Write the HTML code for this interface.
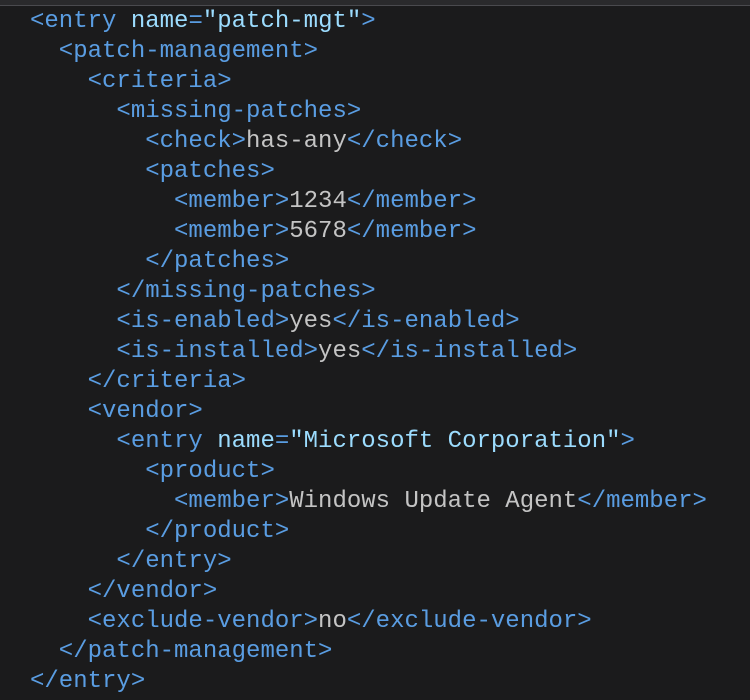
<!DOCTYPE html>
<html><head><style>
html,body{margin:0;padding:0;}
body{width:750px;height:700px;background:#1b1b1c;overflow:hidden;position:relative;}
.top{position:absolute;left:0;top:0;width:750px;height:5px;background:#2a2a2c;border-bottom:1px solid #4a4a4e;}
pre{position:absolute;left:30px;top:7px;margin:0;font-family:"Liberation Mono",monospace;font-size:24px;line-height:30px;color:#5a9de2;}
.a{color:#9cdcfe}.v{color:#9cdcfe}.t{color:#c4c4c4}
</style></head><body>
<div class="top"></div>
<pre>&lt;entry <span class="a">name</span>=<span class="v">"patch-mgt"</span>&gt;
  &lt;patch-management&gt;
    &lt;criteria&gt;
      &lt;missing-patches&gt;
        &lt;check&gt;<span class="t">has-any</span>&lt;/check&gt;
        &lt;patches&gt;
          &lt;member&gt;<span class="t">1234</span>&lt;/member&gt;
          &lt;member&gt;<span class="t">5678</span>&lt;/member&gt;
        &lt;/patches&gt;
      &lt;/missing-patches&gt;
      &lt;is-enabled&gt;<span class="t">yes</span>&lt;/is-enabled&gt;
      &lt;is-installed&gt;<span class="t">yes</span>&lt;/is-installed&gt;
    &lt;/criteria&gt;
    &lt;vendor&gt;
      &lt;entry <span class="a">name</span>=<span class="v">"Microsoft Corporation"</span>&gt;
        &lt;product&gt;
          &lt;member&gt;<span class="t">Windows Update Agent</span>&lt;/member&gt;
        &lt;/product&gt;
      &lt;/entry&gt;
    &lt;/vendor&gt;
    &lt;exclude-vendor&gt;<span class="t">no</span>&lt;/exclude-vendor&gt;
  &lt;/patch-management&gt;
&lt;/entry&gt;</pre>
</body></html>
